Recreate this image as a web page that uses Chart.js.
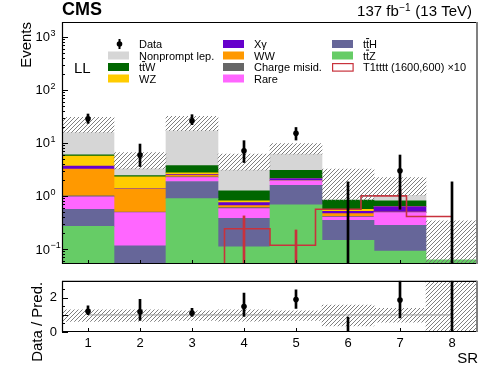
<!DOCTYPE html>
<html>
<head>
<meta charset="utf-8">
<script src="https://cdn.jsdelivr.net/npm/chart.js@4.4.0/dist/chart.umd.min.js"></script>
<style>
    html, body { margin: 0; padding: 0; background: #fff; }
    #wrap { position: relative; width: 498px; height: 374px; }
    #wrap canvas { position: absolute; left: 0; }
    #main { top: 0; }
    #ratio { top: 268px; }
</style>
</head>
<body>
<div id="wrap">
    <canvas id="main" width="498" height="268"></canvas>
    <canvas id="ratio" width="498" height="106"></canvas>
</div>
<script>
const bins = ['1', '2', '3', '4', '5', '6', '7', '8'];

// background yields per SR, bottom of the stack first
const ttZ       = [0.267, 0.03, 0.89, 0.109, 0.676, 0.145, 0.091, 0.062];
const ttH       = [0.293, 0.084, 0.98, 0.269, 0.914, 0.202, 0.188, 0];
const rare      = [0.40, 0.37, 0.35, 0.197, 0.33, 0.053, 0.205, 0];
const chargeMis = [0.04, 0.01, 0.06, 0.025, 0.02, 0.013, 0.005, 0];
const ww        = [2.19, 0.83, 0.18, 0.056, 0.02, 0.05, 0.005, 0];
const xgamma    = [0.45, 0.04, 0.09, 0.092, 0.17, 0.051, 0.134, 0];
const wz        = [1.99, 0.93, 0.17, 0.057, 0.02, 0.046, 0.01, 0];
const ttW       = [0.33, 0.13, 1.02, 0.435, 0.90, 0.27, 0.166, 0];
const nonprompt = [9.74, 0.82, 13.16, 1.82, 3.08, 0, 0.226, 0];

// hatched uncertainty band (visible part) in the upper panel
const bandLow  = [15.7, 3.24, 16.9, 3.06, 6.14, 0.83, 1.03, 0];
const bandHigh = [30.2, 6.59, 31.5, 6.14, 9.74, 3.2, 2.22, 0.337];

// observed
const dataObs  = [28.5, 5.9, 26.2, 7.1, 15.1, 0, 2.97, 0];
const dataLow  = [23.3, 3.58, 22, 4.26, 11.3, 0, 0.56, 0];
const dataHigh = [35, 9.5, 34, 11, 19.5, 1.84, 5.9, 1.84];

// T1tttt (1600,600) x10
const signal     = [0, 0, 0, 0.241, 0.117, 0.56, 1.0, 0.41];
const signalLow  = [null, null, null, 0, 0, null, 0.56, null];
const signalHigh = [null, null, null, 0.42, 0.228, null, 1.34, null];

// lower panel
const ratio         = [1.21, 1.19, 1.11, 1.49, 1.9, 0, 1.87, 0];
const ratioLow      = [1.02, 0.68, 0.92, 0.91, 1.38, 0, 0.83, 0];
const ratioHigh     = [1.53, 1.91, 1.38, 2.28, 2.47, 0.87, 3, 3];
const ratioBandLow  = [0.62, 0.62, 0.68, 0.64, 0.68, 0.36, 0.58, 0];
const ratioBandHigh = [1.30, 1.30, 1.24, 1.30, 1.24, 1.58, 1.38, 3];

const logDecades = [-1, 0, 1, 2, 3];
const ratioTicks = [0, 1, 2, 3];

const FONT = '"Liberation Sans", Arial, Helvetica, sans-serif';
const FLOOR = 1e-3;
const Y_MIN = 0.052;
const Y_MAX = 1900;
const RED = '#c8323c';

const COLORS = {
    nonprompt: '#d6d6d6',
    ttW: '#006600',
    wz: '#ffcc00',
    xgamma: '#6600cc',
    ww: '#ff9900',
    chargeMis: '#666666',
    rare: '#ff66ff',
    ttH: '#666699',
    ttZ: '#66cc66',
};

function makeHatch() {
    const c = document.createElement('canvas');
    c.width = 4;
    c.height = 4;
    const g = c.getContext('2d');
    g.strokeStyle = '#707070';
    g.lineWidth = 0.9;
    g.beginPath();
    g.moveTo(-1, 5); g.lineTo(5, -1);
    g.moveTo(-1, 1); g.lineTo(1, -1);
    g.moveTo(3, 5); g.lineTo(5, 3);
    g.stroke();
    return g.createPattern(c, 'repeat');
}
const hatchFill = makeHatch();

const floatBar = (lo, hi) => (hi == null ? null : [Math.max(lo || 0, FLOOR), hi]);
const floatLin = (lo, hi) => (hi == null ? null : [lo, hi]);

// stacked backgrounds built as floating bars so the log axis keeps its floor
const stackParts = [
    { name: 'ttZ', values: ttZ, color: COLORS.ttZ },
    { name: 'ttH', values: ttH, color: COLORS.ttH },
    { name: 'Rare', values: rare, color: COLORS.rare },
    { name: 'Charge misid.', values: chargeMis, color: COLORS.chargeMis },
    { name: 'WW', values: ww, color: COLORS.ww },
    { name: 'Xgamma', values: xgamma, color: COLORS.xgamma },
    { name: 'WZ', values: wz, color: COLORS.wz },
    { name: 'ttW', values: ttW, color: COLORS.ttW },
    { name: 'Nonprompt lep.', values: nonprompt, color: COLORS.nonprompt },
];
const running = bins.map(() => 0);
const stackDatasets = stackParts.map((part) => {
    const data = part.values.map((v, i) => {
        const lo = running[i];
        running[i] += v;
        return v > 0 ? floatBar(lo, running[i]) : null;
    });
    return { label: part.name, data: data, backgroundColor: part.color, order: 10 };
});

// histogram outline of the signal on the bin edges
const signalStep = [];
signal.forEach((v, i) => {
    if (!v) return;
    if (!signalStep.length) signalStep.push({ x: i + 0.5, y: FLOOR });
    signalStep.push({ x: i + 0.5, y: v }, { x: i + 1.5, y: v });
});

function rootFrame(yTicks) {
    return {
        id: 'rootFrame',
        afterDraw(chart) {
            const { ctx, chartArea: a, scales } = chart;
            ctx.save();
            ctx.strokeStyle = '#000';
            ctx.lineWidth = 1;
            ctx.beginPath();
            yTicks.forEach((t) => {
                const py = Math.round(scales.y.getPixelForValue(t.value)) + 0.5;
                ctx.moveTo(a.left, py);
                ctx.lineTo(a.left + t.len, py);
            });
            bins.forEach((b, i) => {
                const px = Math.round(scales.x.getPixelForValue(i)) + 0.5;
                ctx.moveTo(px, a.bottom);
                ctx.lineTo(px, a.bottom - 4);
            });
            ctx.stroke();
            ctx.lineWidth = 1.2;
            ctx.beginPath();
            ctx.moveTo(a.right - 1, a.top + 0.5);
            ctx.lineTo(a.left + 0.5, a.top + 0.5);
            ctx.lineTo(a.left + 0.5, a.bottom - 0.5);
            ctx.lineTo(a.right - 1, a.bottom - 0.5);
            ctx.stroke();
            ctx.strokeStyle = '#808080';
            ctx.lineWidth = 2;
            ctx.beginPath();
            ctx.moveTo(a.right - 1, a.top);
            ctx.lineTo(a.right - 1, a.bottom);
            ctx.stroke();
            ctx.restore();
        },
    };
}

// text with a combining macron drawn as a bar over the preceding letter
function drawLabel(ctx, text, x, y, size) {
    let cx = x;
    const parts = text.split('\u0304');
    parts.forEach((part, idx) => {
        ctx.fillText(part, cx, y);
        const w = ctx.measureText(part).width;
        if (idx < parts.length - 1) {
            const lw = ctx.measureText(part.slice(-1)).width;
            ctx.fillRect(cx + w - lw, y - size * 0.9, lw, 1);
        }
        cx += w;
    });
}

const legendEntries = [
    { col: 0, row: 0, text: 'Data', kind: 'data' },
    { col: 0, row: 1, text: 'Nonprompt lep.', fill: COLORS.nonprompt },
    { col: 0, row: 2, text: 't\u0074\u0304W', fill: COLORS.ttW },
    { col: 0, row: 3, text: 'WZ', fill: COLORS.wz },
    { col: 1, row: 0, text: 'X\u03b3', fill: COLORS.xgamma },
    { col: 1, row: 1, text: 'WW', fill: COLORS.ww },
    { col: 1, row: 2, text: 'Charge misid.', fill: COLORS.chargeMis },
    { col: 1, row: 3, text: 'Rare', fill: COLORS.rare },
    { col: 2, row: 0, text: 't\u0074\u0304H', fill: COLORS.ttH },
    { col: 2, row: 1, text: 't\u0074\u0304Z', fill: COLORS.ttZ },
    { col: 2, row: 2, text: 'T1tttt (1600,600) \u00d710', kind: 'outline' },
];
const legendCols = [108, 223, 332];
const legendRows = [44, 55.5, 67, 78.5];

const decorations = {
    id: 'decorations',
    afterDraw(chart) {
        const { ctx, scales } = chart;
        ctx.save();
        ctx.fillStyle = '#000';
        ctx.textAlign = 'left';
        ctx.textBaseline = 'alphabetic';

        ctx.font = `bold 18px ${FONT}`;
        ctx.fillText('CMS', 62, 14.8);

        // 137 fb^-1 (13 TeV), right aligned
        ctx.font = `15px ${FONT}`;
        const tail = ' (13 TeV)';
        const tailW = ctx.measureText(tail).width;
        ctx.font = `10px ${FONT}`;
        const sup = '\u22121';
        const supW = ctx.measureText(sup).width;
        let x = 472 - tailW;
        ctx.font = `15px ${FONT}`;
        ctx.fillText(tail, x, 16.3);
        x -= supW + 0.5;
        ctx.font = `10px ${FONT}`;
        ctx.fillText(sup, x, 10.5);
        ctx.font = `15px ${FONT}`;
        ctx.textAlign = 'right';
        ctx.fillText('137 fb', x - 0.5, 16.3);
        ctx.textAlign = 'left';

        ctx.fillText('LL', 74, 72.5);

        // legend
        ctx.font = `11px ${FONT}`;
        legendEntries.forEach((e) => {
            const bx = legendCols[e.col];
            const cy = legendRows[e.row];
            if (e.kind === 'data') {
                ctx.fillRect(bx + 10.5, cy - 5, 2, 10);
                ctx.beginPath();
                ctx.arc(bx + 11.5, cy, 2.8, 0, Math.PI * 2);
                ctx.fill();
            } else if (e.kind === 'outline') {
                ctx.strokeStyle = RED;
                ctx.lineWidth = 1.2;
                ctx.strokeRect(bx + 0.6, cy - 3.4, 20.5, 7.5);
            } else {
                ctx.fillStyle = e.fill;
                ctx.fillRect(bx, cy - 4, 21, 8);
                ctx.fillStyle = '#000';
            }
            drawLabel(ctx, e.text, bx + 31, cy + 4, 11);
        });

        // log axis labels 10^n
        logDecades.forEach((e) => {
            const py = scales.y.getPixelForValue(Math.pow(10, e));
            ctx.font = `13px ${FONT}`;
            ctx.textAlign = 'right';
            ctx.fillText('10', 50, py + 4.6);
            ctx.font = `9px ${FONT}`;
            ctx.textAlign = 'left';
            ctx.fillText(e < 0 ? '\u2212' + Math.abs(e) : String(e), 50.5, py - 1);
        });
        ctx.restore();
    },
};

const ratioTitle = {
    id: 'ratioTitle',
    afterDraw(chart) {
        const { ctx, chartArea } = chart;
        ctx.save();
        ctx.translate(37.5, chartArea.top + 1);
        ctx.rotate(-Math.PI / 2);
        ctx.font = `15px ${FONT}`;
        ctx.fillStyle = '#000';
        ctx.textAlign = 'right';
        ctx.textBaseline = 'middle';
        ctx.fillText('Data / Pred.', 0, 0);
        ctx.restore();
    },
};

const mainTicks = [];
for (let e = -2; e <= 3; e++) {
    for (let k = 1; k <= 9; k++) {
        const v = k * Math.pow(10, e);
        if (v >= Y_MIN && v <= Y_MAX) mainTicks.push({ value: v, len: k === 1 ? 6 : 3 });
    }
}
const ratioTickMarks = [];
for (let v = 0; v <= 3; v += 0.5) {
    ratioTickMarks.push({ value: v, len: Number.isInteger(v) ? 6 : 3 });
}

const barDefaults = { grouped: false, barPercentage: 1, categoryPercentage: 1, borderWidth: 0, clip: 0 };

new Chart(document.getElementById('main'), {
    type: 'bar',
    data: {
        labels: bins,
        datasets: [
            ...stackDatasets,
            {
                type: 'line',
                label: 'T1tttt (1600,600) x10',
                xAxisID: 'xs',
                data: signalStep,
                borderColor: RED,
                borderWidth: 1.6,
                pointRadius: 0,
                tension: 0,
                order: 3,
            },
            {
                label: 'T1tttt unc.',
                data: signalHigh.map((h, i) => floatBar(signalLow[i], h)),
                backgroundColor: RED,
                maxBarThickness: 2,
                order: 3,
            },
            {
                label: 'Unc.',
                data: bandHigh.map((h, i) => floatBar(bandLow[i], h)),
                backgroundColor: hatchFill,
                order: 2,
            },
            {
                label: 'Data unc.',
                data: dataHigh.map((h, i) => floatBar(dataLow[i], h)),
                backgroundColor: '#000',
                maxBarThickness: 2,
                order: 1,
            },
            {
                type: 'line',
                label: 'Data',
                data: dataObs.map((v) => (v > 0 ? v : null)),
                showLine: false,
                pointRadius: 2.8,
                pointBorderWidth: 0,
                pointBackgroundColor: '#000',
                order: 0,
            },
        ],
    },
    options: {
        responsive: false,
        animation: false,
        devicePixelRatio: 1,
        layout: { padding: { top: 22, right: 20, bottom: 4, left: 0 } },
        datasets: { bar: barDefaults },
        plugins: { legend: { display: false }, tooltip: { enabled: false } },
        scales: {
            x: { type: 'category', offset: true, display: false },
            xs: { type: 'linear', axis: 'x', min: 0.5, max: 8.5, display: false },
            y: {
                type: 'logarithmic',
                min: Y_MIN,
                max: Y_MAX,
                afterFit: (s) => { s.width = 62; },
                ticks: { display: false },
                grid: { display: false, drawTicks: false },
                border: { display: false },
                title: {
                    display: true,
                    text: 'Events',
                    align: 'end',
                    color: '#000',
                    font: { family: FONT, size: 15 },
                    padding: { top: 17.7, bottom: 0 },
                },
            },
        },
    },
    plugins: [rootFrame(mainTicks), decorations],
});

new Chart(document.getElementById('ratio'), {
    type: 'bar',
    data: {
        labels: bins,
        datasets: [
            {
                label: 'Unc.',
                data: ratioBandHigh.map((h, i) => floatLin(ratioBandLow[i], h)),
                backgroundColor: hatchFill,
                order: 3,
            },
            {
                type: 'line',
                label: 'unity',
                xAxisID: 'xs',
                data: [{ x: 0.5, y: 1 }, { x: 8.5, y: 1 }],
                borderColor: '#9a9a9a',
                borderWidth: 1,
                pointRadius: 0,
                order: 2,
            },
            {
                label: 'Data unc.',
                data: ratioHigh.map((h, i) => floatLin(ratioLow[i], h)),
                backgroundColor: '#000',
                maxBarThickness: 2,
                order: 1,
            },
            {
                type: 'line',
                label: 'Data / Pred.',
                data: ratio.map((v) => (v > 0 ? v : null)),
                showLine: false,
                pointRadius: 2.8,
                pointBorderWidth: 0,
                pointBackgroundColor: '#000',
                order: 0,
            },
        ],
    },
    options: {
        responsive: false,
        animation: false,
        devicePixelRatio: 1,
        layout: { padding: { top: 11, right: 20, bottom: 0, left: 0 } },
        datasets: { bar: barDefaults },
        plugins: { legend: { display: false }, tooltip: { enabled: false } },
        scales: {
            x: {
                type: 'category',
                offset: true,
                afterFit: (s) => { s.height = 42; },
                grid: { display: false, drawTicks: false },
                border: { display: false },
                ticks: { color: '#000', font: { family: FONT, size: 13 }, padding: 4, maxRotation: 0, autoSkip: false },
                title: {
                    display: true,
                    text: 'SR',
                    align: 'end',
                    color: '#000',
                    font: { family: FONT, size: 15 },
                    padding: { top: 0, bottom: 6 },
                },
            },
            xs: { type: 'linear', axis: 'x', min: 0.5, max: 8.5, display: false },
            y: {
                min: 0,
                max: 3,
                afterFit: (s) => { s.width = 62; },
                afterBuildTicks: (s) => { s.ticks = ratioTicks.map((v) => ({ value: v })); },
                grid: { display: false, drawTicks: false },
                border: { display: false },
                ticks: { color: '#000', font: { family: FONT, size: 13 }, padding: 5 },
            },
        },
    },
    plugins: [rootFrame(ratioTickMarks), ratioTitle],
});
</script>
</body>
</html>
